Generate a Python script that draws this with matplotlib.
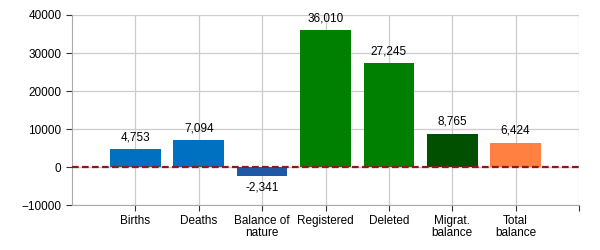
import matplotlib
matplotlib.use("Agg")
import matplotlib.pyplot as plt

categories = ["Births", "Deaths", "Balance of\nnature", "Registered", "Deleted", "Migrat.\nbalance", "Total\nbalance"]
values = [4753, 7094, -2341, 36010, 27245, 8765, 6424]
colors = ["#0070C0", "#0070C0", "#2058A8", "#008000", "#008000", "#005000", "#FF8040"]
y_ticks = [-10000, 0, 10000, 20000, 30000, 40000]

plt.rcParams['font.family'] = ['Liberation Sans', 'DejaVu Sans']

fig = plt.figure(figsize=(6, 2.5), dpi=100)
ax = fig.add_axes([0.12, 0.18, 0.845, 0.76])

x = list(range(len(categories)))
ax.bar(x, values, width=0.8, color=colors, zorder=3)

for xi, v in zip(x, values):
    if v >= 0:
        ax.text(xi, v + 1500, f"{v:,}", ha='center', va='bottom', fontsize=8.5, zorder=4)
    else:
        ax.text(xi, v - 1500, f"{v:,}", ha='center', va='top', fontsize=8.5, zorder=4)

ax.axhline(0, color='#8B1A1A', linestyle=(0, (3, 1.5)), linewidth=1.6, zorder=4)

ax.set_xlim(-1, len(categories))
ax.set_ylim(-10000, 40000)
ax.set_yticks(y_ticks)
ax.set_xticks(list(range(len(categories) + 1)))
ax.set_xticklabels(categories + [""], fontsize=8.5, linespacing=1.0)
ax.tick_params(axis='y', labelsize=8.5, length=4, color='#333333')
ax.tick_params(axis='x', length=4, color='#333333')

ax.grid(True, color='#CCCCCC', linewidth=0.9, zorder=0)
ax.set_axisbelow(True)
for s in ['top', 'right']:
    ax.spines[s].set_visible(False)
ax.spines['left'].set_color('#AAAAAA')
ax.spines['bottom'].set_color('#AAAAAA')

fig.savefig("out.png", dpi=100)
